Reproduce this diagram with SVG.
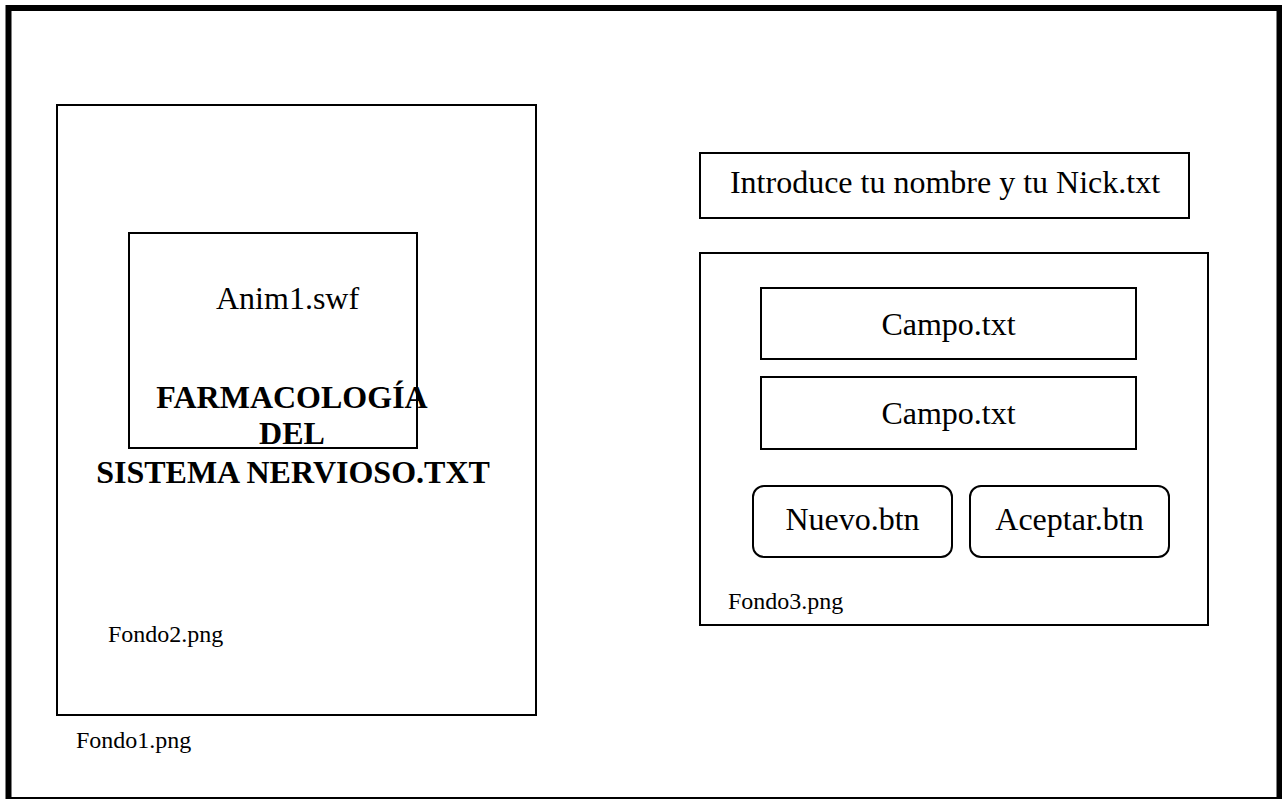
<svg xmlns="http://www.w3.org/2000/svg" width="1282" height="799" viewBox="0 0 1282 799">
  <style>
    .box { fill: none; stroke: #000; stroke-width: 2; }
    .txt { font-family: "Liberation Serif", "Times New Roman", serif; fill: #000; }
    .big { font-size: 32px; }
    .small { font-size: 24px; }
    .bold { font-weight: bold; }
    .mid { text-anchor: middle; }
  </style>
  <rect x="0" y="0" width="1282" height="799" fill="#fff"/>

  <!-- outer frame -->
  <g id="frame">
    <rect x="8.5" y="8" width="1271" height="792" fill="none" stroke="#000" stroke-width="6"/>
  </g>

  <!-- left panel: Fondo1 / Fondo2 -->
  <g id="fondo1">
    <rect class="box" x="57" y="105" width="479" height="610"/>
    <text class="txt small" x="76" y="748">Fondo1.png</text>
    <text class="txt small" x="108" y="642">Fondo2.png</text>
  </g>

  <g id="anim1">
    <rect class="box" x="129" y="233" width="288" height="215"/>
    <text class="txt big" x="216" y="309">Anim1.swf</text>
  </g>

  <g id="titulo">
    <text class="txt big bold mid" x="292" y="408">FARMACOLOGÍA</text>
    <text class="txt big bold mid" x="292" y="444">DEL</text>
    <text class="txt big bold mid" x="293" y="483">SISTEMA NERVIOSO.TXT</text>
  </g>

  <!-- right panel -->
  <g id="intro">
    <rect class="box" x="700" y="153" width="489" height="65"/>
    <text class="txt big mid" x="945" y="193">Introduce tu nombre y tu Nick.txt</text>
  </g>

  <g id="fondo3">
    <rect class="box" x="700" y="253" width="508" height="372"/>
    <text class="txt small" x="728" y="609">Fondo3.png</text>
  </g>

  <g id="campo1">
    <rect class="box" x="761" y="288" width="375" height="71"/>
    <text class="txt big mid" x="948.5" y="335">Campo.txt</text>
  </g>

  <g id="campo2">
    <rect class="box" x="761" y="377" width="375" height="72"/>
    <text class="txt big mid" x="948.5" y="424">Campo.txt</text>
  </g>

  <g id="nuevo">
    <rect class="box" x="753" y="486" width="199" height="71" rx="11" ry="11"/>
    <text class="txt big mid" x="852.5" y="530">Nuevo.btn</text>
  </g>

  <g id="aceptar">
    <rect class="box" x="970" y="486" width="199" height="71" rx="11" ry="11"/>
    <text class="txt big mid" x="1069.5" y="530">Aceptar.btn</text>
  </g>

  <g id="connectors"/>
</svg>
